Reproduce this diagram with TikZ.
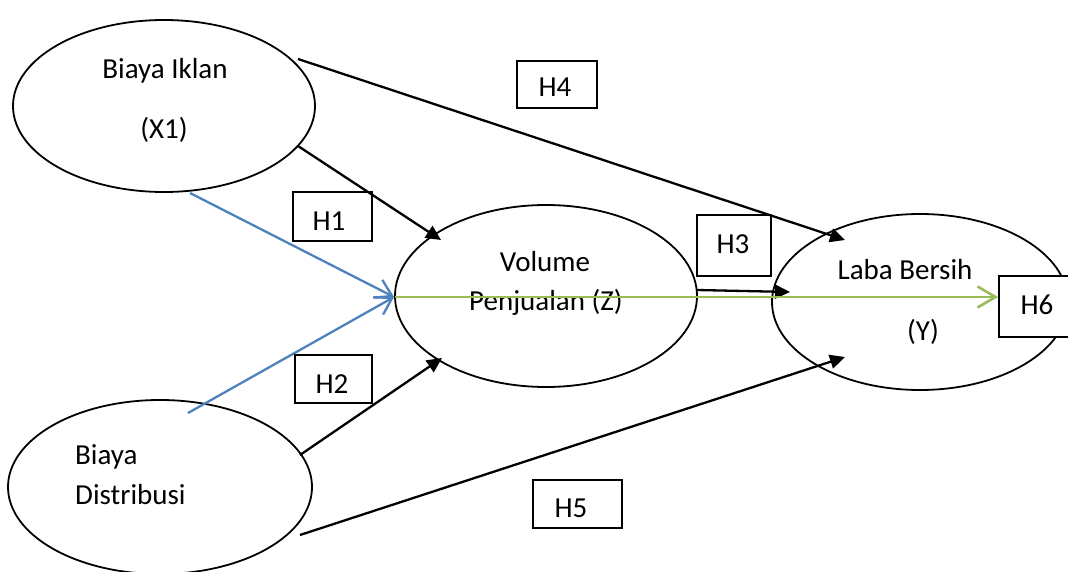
\documentclass[tikz,border=0pt]{standalone}
\usepackage{fontspec}
\setmainfont{Carlito}
\usetikzlibrary{shapes.geometric,arrows.meta}
\definecolor{lineblue}{HTML}{4F81BD}
\definecolor{linegreen}{HTML}{9BBB59}
\begin{document}
\begin{tikzpicture}[x=1pt,y=-1pt,
  ell/.style={draw,ellipse,line width=1.8pt,inner sep=0pt},
  hbox/.style={draw,fill=white,line width=1.8pt,inner sep=0pt},
  lbl/.style={anchor=base,inner sep=0pt,font=\fontsize{29}{32}\selectfont},
  arr/.style={line width=2.3pt,-{Triangle[length=15pt,width=14pt]}},
  blu/.style={draw=lineblue,line width=2.3pt,-{Straight Barb[length=16pt,width=20pt]}},
  grn/.style={draw=linegreen,line width=2.6pt,-{Straight Barb[length=18pt,width=21pt]}}]
\useasboundingbox (0,0) rectangle (1068,572);
% ellipses
\node[ell,minimum width=302pt,minimum height=172pt] (x1) at (164,106) {};
\node[ell,minimum width=304pt,minimum height=174pt] (x2) at (160,487) {};
\node[ell,minimum width=302pt,minimum height=182pt] (vol) at (546,296) {};
\node[ell,minimum width=296pt,minimum height=176pt] (laba) at (920,302) {};
% texts
\node[lbl] (tx1a) at (165,79) {Biaya Iklan};
\node[lbl] (tx1b) at (164,139) {(X1)};
\node[lbl,anchor=base west] (tx2a) at (75,464) {Biaya};
\node[lbl,anchor=base west] (tx2b) at (75,504) {Distribusi};
\node[lbl] (tvola) at (545,271) {Volume};
\node[lbl] (tvolb) at (546,310) {Penjualan (Z)};
\node[lbl] (tlaba) at (905,279) {Laba Bersih};
\node[lbl] (tlabb) at (923,340) {(Y)};
% boxes
\node[hbox,minimum width=80pt,minimum height=47pt] (b4) at (557,84.5) {};
\node[hbox,minimum width=79pt,minimum height=49pt] (b1) at (332.5,216.5) {};
\node[hbox,minimum width=77pt,minimum height=48pt] (b2) at (333.5,379) {};
\node[hbox,minimum width=89pt,minimum height=48pt] (b5) at (577.5,504) {};
\node[hbox,minimum width=74pt,minimum height=61pt] (b3) at (734,245.5) {};
\node[hbox,minimum width=73pt,minimum height=61pt] (b6) at (1035.5,306.5) {};
\node[lbl] (h4) at (555,97) {H4};
\node[lbl] (h1) at (329,230) {H1};
\node[lbl] (h2) at (332,393) {H2};
\node[lbl] (h5) at (571,517) {H5};
\node[lbl] (h3) at (733,253) {H3};
\node[lbl] (h6) at (1037,314) {H6};
% black arrows
\draw[arr] ([shift={(134,-47)}]x1.center) -- ([shift={(-75,-62)}]laba.center);
\draw[arr] ([shift={(134,40)}]x1.center) -- ([shift={(-105,-56)}]vol.center);
\draw[arr] ([shift={(140,-32)}]x2.center) -- ([shift={(-104,62)}]vol.center);
\draw[arr] ([shift={(140,48)}]x2.center) -- ([shift={(-75,55)}]laba.center);
\draw[arr] ([shift={(151,-6)}]vol.center) -- ([shift={(-130,-10)}]laba.center);
% blue arrows
\draw[blu] ([shift={(26,87)}]x1.center) -- ([shift={(-152,1)}]vol.center);
\draw[blu] ([shift={(28,-74)}]x2.center) -- ([shift={(-152,1)}]vol.center);
% green arrow
\draw[grn] ([shift={(-151,1)}]vol.center) -- ([shift={(0,-9.5)}]b6.west);
\end{tikzpicture}
\end{document}
